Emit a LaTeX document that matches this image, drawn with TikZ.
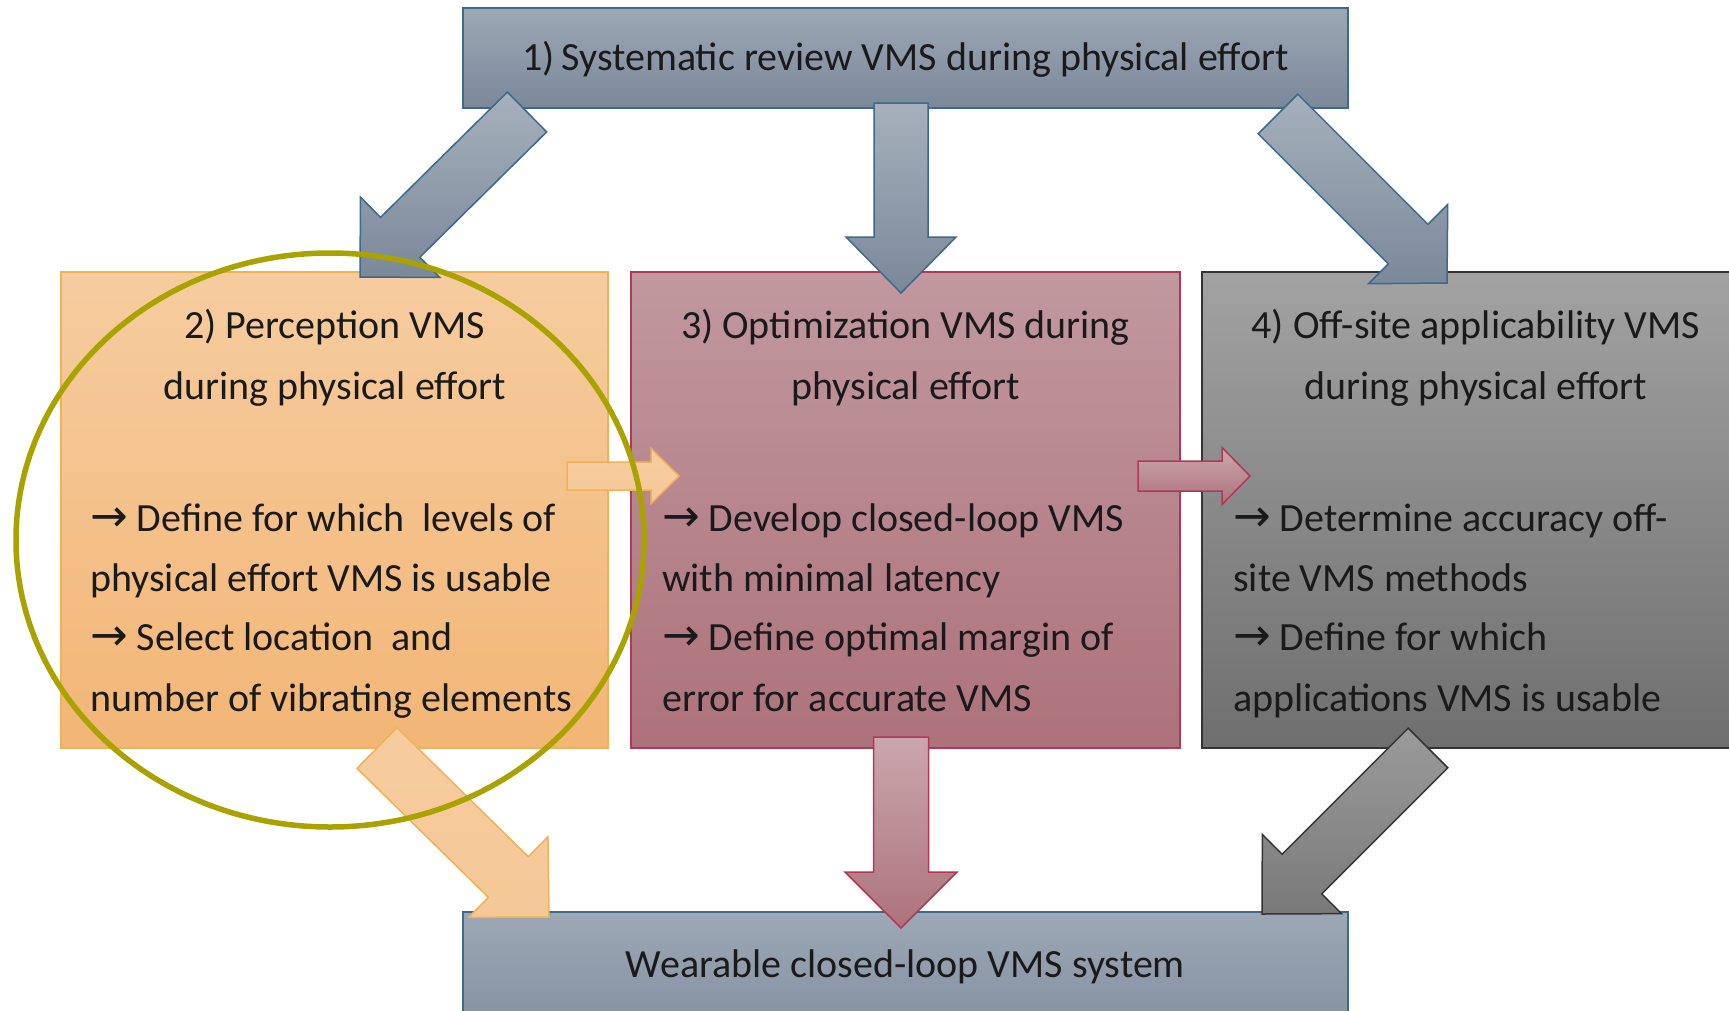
\documentclass[tikz,border=0pt]{standalone}
\usepackage{fontspec}
\setmainfont{Carlito}
\newfontfamily\arrfont{DejaVu Sans}
\usetikzlibrary{calc}
\definecolor{txtc}{HTML}{1A1A1A}
\definecolor{blueTop}{HTML}{9DA8B5}
\definecolor{blueBot}{HTML}{7B889A}
\definecolor{blueLine}{HTML}{3B6A8A}
\definecolor{orTop}{HTML}{F6CC9F}
\definecolor{orBot}{HTML}{F2B676}
\definecolor{orLine}{HTML}{EFB257}
\definecolor{pkTop}{HTML}{C1989F}
\definecolor{pkBot}{HTML}{AD727B}
\definecolor{pkLine}{HTML}{B2385A}
\definecolor{gyTop}{HTML}{A2A2A2}
\definecolor{gyBot}{HTML}{6F6F6F}
\definecolor{gyLine}{HTML}{333333}
\definecolor{olive}{HTML}{A9A200}
\newcommand\rarr{{\arrfont\fontsize{45}{48}\selectfont →}}
% #1 style, #2 start, #3 end, #4 shaft half width, #5 head half width, #6 head length
\newcommand\blockarr[6]{%
  \coordinate (#2n) at ($(#3)!#6!(#2)$);
  \path[#1] ($(#2)!#4!90:(#3)$) -- ($(#2n)!#4!90:(#3)$) -- ($(#2n)!#5!90:(#3)$) -- (#3)
     -- ($(#2n)!#5!-90:(#3)$) -- ($(#2n)!#4!-90:(#3)$) -- ($(#2)!#4!-90:(#3)$) -- cycle;
}
\tikzset{
  boxbase/.style={rectangle, line width=1.6pt, inner sep=0pt},
  bluebox/.style={boxbase, draw=blueLine, top color=blueTop, bottom color=blueBot},
  orbox/.style={boxbase, draw=orLine, top color=orTop, bottom color=orBot},
  pkbox/.style={boxbase, draw=pkLine, top color=pkTop, bottom color=pkBot},
  gybox/.style={boxbase, draw=gyLine, top color=gyTop, bottom color=gyBot},
  bluearr/.style={draw=blueLine, line width=1.5pt, top color=blueTop!90!white, bottom color=blueBot},
  orarr/.style={draw=orLine, line width=1.5pt, top color=orTop, bottom color=orTop!80!orBot},
  pkarr/.style={draw=pkLine, line width=1.5pt, top color=pkTop!85!white, bottom color=pkBot},
  gyarr/.style={draw=gyLine, line width=1.5pt, top color=gyTop!85!gyBot, bottom color=gyBot!80!gyTop},
  txt/.style={font=\fontsize{40}{48}\selectfont, text=txtc, inner sep=0pt},
  head/.style={txt, anchor=mid},
  body/.style={txt, anchor=mid west},
}
\begin{document}
\begin{tikzpicture}[x=1pt,y=-1pt]
\useasboundingbox (0,0) rectangle (1729,1010);
\clip (0,0) rectangle (1729,1010);
\fill[white] (0,0) rectangle (1729,1010);
% boxes
\node[bluebox, minimum width=885pt, minimum height=100pt] (top) at (905.5,58) {};
\node[orbox, minimum width=547pt, minimum height=476pt] (b2) at (334.5,510) {};
\node[pkbox, minimum width=549pt, minimum height=476pt] (b3) at (905.5,510) {};
\node[gybox, minimum width=548pt, minimum height=476pt] (b4) at (1476,510) {};
\node[bluebox, minimum width=885pt, minimum height=160pt] (bot) at (905.5,992) {};
% texts
\node[head] (t1) at (905.5,68) {1)\,Systematic review VMS during physical effort};
\node[head] (h2a) at (334.5,336) {2) Perception VMS};
\node[head] (h2b) at (334.5,397) {during physical effort};
\node[body] (l2a) at (90,529) {\rarr{} Define for which\ \ levels of};
\node[body] (l2b) at (90,589) {physical effort VMS is usable};
\node[body] (l2c) at (90,648) {\rarr{} Select location\ \ and};
\node[body] (l2d) at (90,709) {number of vibrating elements};
\node[head] (h3a) at (905.5,336) {3) Optimization VMS during};
\node[head] (h3b) at (905.5,397) {physical effort};
\node[body] (l3a) at (662,529) {\rarr{} Develop closed-loop VMS};
\node[body] (l3b) at (662,589) {with minimal latency};
\node[body] (l3c) at (662,648) {\rarr{} Define optimal margin of};
\node[body] (l3d) at (662,709) {error for accurate VMS};
\node[head] (h4a) at (1476,336) {4) Off-site applicability VMS};
\node[head] (h4b) at (1476,397) {during physical effort};
\node[body] (l4a) at (1233,529) {\rarr{} Determine accuracy off-};
\node[body] (l4b) at (1233,589) {site VMS methods};
\node[body] (l4c) at (1233,648) {\rarr{} Define for which};
\node[body] (l4d) at (1233,709) {applications VMS is usable};
\node[head] (tb) at (905.5,975) {Wearable closed-loop VMS system};
% arrow end points
\coordinate (a1s) at (527,112);  \coordinate (a1e) at (360,277);
\coordinate (a2s) at (901,103);  \coordinate (a2e) at (901,293);
\coordinate (a3s) at (1278,114); \coordinate (a3e) at (1447,283);
\coordinate (a4s) at (567,476);  \coordinate (a4e) at (679,476);
\coordinate (a5s) at (1138,476); \coordinate (a5e) at (1250,476);
\coordinate (a6s) at (377,748);  \coordinate (a6e) at (549,917);
\coordinate (a7s) at (901,737);  \coordinate (a7e) at (901,928);
\coordinate (a8s) at (1428,748); \coordinate (a8e) at (1262,914);
\blockarr{bluearr}{a1s}{a1e}{28pt}{56.5pt}{56.5pt}
\blockarr{bluearr}{a2s}{a2e}{27pt}{55pt}{56pt}
\blockarr{bluearr}{a3s}{a3e}{28pt}{56pt}{55pt}
\blockarr{orarr}{a4s}{a4e}{14pt}{27.5pt}{28pt}
\blockarr{pkarr}{a5s}{a5e}{15pt}{28.5pt}{28pt}
\blockarr{orarr}{a6s}{a6e}{28.5pt}{56.5pt}{57pt}
\blockarr{pkarr}{a7s}{a7e}{27.5pt}{56pt}{56pt}
\blockarr{gyarr}{a8s}{a8e}{28pt}{56pt}{56.5pt}
% highlight ellipse
\draw[olive, line width=5.5pt] (330,540) ellipse [x radius=314, y radius=287];
\end{tikzpicture}
\end{document}
